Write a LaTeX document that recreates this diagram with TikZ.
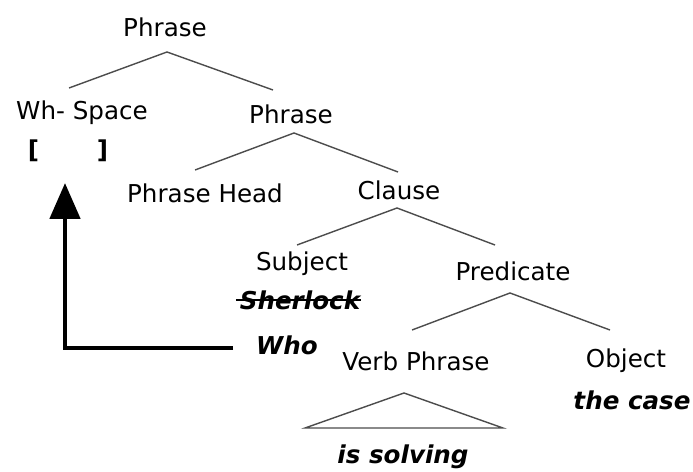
\documentclass[tikz,border=0pt]{standalone}
\usepackage{fontspec}
\setmainfont{DejaVu Sans}
\usetikzlibrary{arrows.meta}

\tikzset{
  word/.style={inner sep=0pt, font=\fontsize{14}{16}\selectfont},
  example/.style={inner sep=0pt, font=\fontsize{14}{16}\selectfont\bfseries\itshape},
  branch/.style={draw=black!70, line width=0.8pt},
  movement/.style={line width=2.8pt, -{Triangle[length=0.72cm,width=0.6cm]}}
}

\begin{document}
\begin{tikzpicture}[x=0.02cm,y=-0.02cm]
  \useasboundingbox (0,0) rectangle (693,472);

  % the tree
  \node[word] (top) at (165,27) {Phrase};
  \node[word] (ws) at (82,113) {Wh- Space};
  \node[word,font=\fontsize{14}{16}\selectfont\bfseries] (gap) at (68,151) {[\hspace{33pt}]};
  \node[word] (ph) at (291,114) {Phrase};
  \node[word] (head) at (205,193) {Phrase Head};
  \node[word] (clause) at (399,190) {Clause};
  \node[word] (subj) at (302,264) {Subject};
  \node[example] (sher) at (300,300) {Sherlock};
  \node[example] (who) at (287,345) {Who};
  \node[word] (pred) at (513,271) {Predicate};
  \node[word] (vp) at (416,361) {Verb Phrase};
  \node[word] (obj) at (626,361) {Object};
  \node[example] (case) at (632,400) {the case};
  \node[example] (solv) at (403,457) {is solving};

  \draw[branch] ([xshift=-0.26cm,yshift=0.5cm]ws.center) -- ([xshift=0.04cm,yshift=-0.5cm]top.center)
    -- ([xshift=-0.36cm,yshift=0.48cm]ph.center);
  \draw[branch] ([xshift=-0.2cm,yshift=0.46cm]head.center) -- ([xshift=0.06cm,yshift=-0.38cm]ph.center)
    -- ([xshift=-0.02cm,yshift=0.36cm]clause.center);
  \draw[branch] ([xshift=-0.1cm,yshift=0.38cm]subj.center) -- ([xshift=-0.04cm,yshift=-0.36cm]clause.center)
    -- ([xshift=-0.36cm,yshift=0.52cm]pred.center);
  \draw[branch] ([xshift=-0.08cm,yshift=0.62cm]vp.center) -- ([xshift=-0.06cm,yshift=-0.44cm]pred.center)
    -- ([xshift=-0.32cm,yshift=0.62cm]obj.center);
  \draw[branch] ([xshift=-0.24cm,yshift=-0.64cm]vp.center) -- ([xshift=-1.96cm,yshift=0.58cm]solv.center)
    -- ([xshift=2cm,yshift=0.58cm]solv.center) -- cycle;

  % crossed out subject
  \draw[line width=1pt] ([xshift=-2pt]sher.west) -- (sher.east);

  % wh-movement
  \draw[movement] ([xshift=-1.08cm,yshift=-0.06cm]who.center) -| ([xshift=-0.06cm,yshift=-0.64cm]gap.center);
\end{tikzpicture}
\end{document}
